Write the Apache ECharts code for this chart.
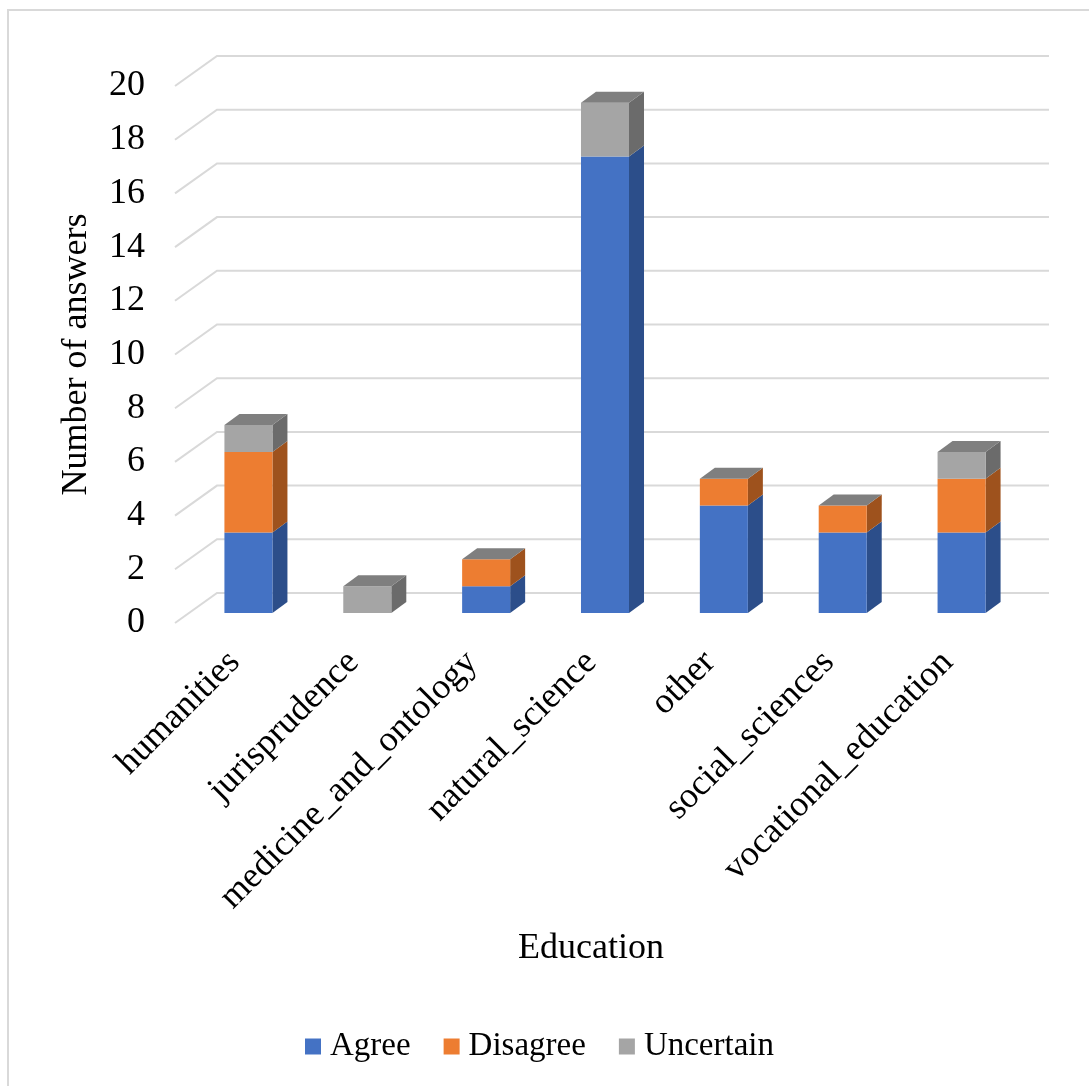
<!DOCTYPE html>
<html>
<head>
<meta charset="utf-8">
<script src="https://cdn.jsdelivr.net/npm/echarts@6/dist/echarts.min.js"></script>
<style>
  html, body { margin: 0; padding: 0; background: #fff; }
  #chart { width: 1089px; height: 1086px; }
</style>
</head>
<body>
<div id="chart"></div>
<script>
// Answers per education group, stacked by response
const categories = ['humanities', 'jurisprudence', 'medicine_and_ontology', 'natural_science', 'other', 'social_sciences', 'vocational_education'];
const agree     = [3, 0, 1, 17, 4, 3, 3];
const disagree  = [3, 0, 1, 0, 1, 1, 2];
const uncertain = [1, 1, 0, 2, 0, 0, 1];
const yTicks = [0, 2, 4, 6, 8, 10, 12, 14, 16, 18, 20];

const seriesDefs = [
  { name: 'Agree',     values: agree,     front: '#4472C4', side: '#2C4E8A', top: '#5B86D6' },
  { name: 'Disagree',  values: disagree,  front: '#ED7D31', side: '#9E521D', top: '#7F7F7F' },
  { name: 'Uncertain', values: uncertain, front: '#A5A5A5', side: '#6B6B6B', top: '#7F7F7F' }
];

// pseudo-3D depth: floor front edge -> bar front -> bar back -> back wall
const BAR_FRONT = [14, -10];
const BAR_DEPTH = [15, -11];
const WALL = [42, -30];
const BAR_FRAC = 0.404;
const FONT = 'Liberation Serif';

// stack bottoms/tops per category
const base = categories.map(() => 0);
const stacked = seriesDefs.map(() => []);
seriesDefs.forEach((s, si) => {
  s.values.forEach((v, ci) => {
    stacked[si].push([ci, base[ci], base[ci] + v, v]);
    base[ci] += v;
  });
});
const totals = base.slice();

function barRenderer(si) {
  const def = seriesDefs[si];
  return function (params, api) {
    const ci = api.value(0), y0 = api.value(1), y1 = api.value(2), v = api.value(3);
    if (!v) return null;
    const pb = api.coord([ci, y0]);
    const pt = api.coord([ci, y1]);
    const band = api.size([1, 0])[0];
    const w = band * BAR_FRAC;
    const cx = pb[0] + BAR_FRONT[0];
    const yb = pb[1] + BAR_FRONT[1];
    const yt = pt[1] + BAR_FRONT[1];
    const l = cx - w / 2, r = cx + w / 2;
    const dx = BAR_DEPTH[0], dy = BAR_DEPTH[1];
    const children = [
      { type: 'polygon', shape: { points: [[r, yb], [r + dx, yb + dy], [r + dx, yt + dy], [r, yt]] },
        style: { fill: def.side } },
      { type: 'rect', shape: { x: l, y: yt, width: w, height: yb - yt },
        style: { fill: def.front } }
    ];
    if (y1 === totals[ci]) {
      children.push({ type: 'polygon', shape: { points: [[l, yt], [l + dx, yt + dy], [r + dx, yt + dy], [r, yt]] },
        style: { fill: def.top } });
    }
    return { type: 'group', children: children };
  };
}

const chart = echarts.init(document.getElementById('chart'));

const series = [{
  type: 'custom',
  name: 'grid',
  silent: true,
  z: 1,
  data: yTicks.map(v => [0, v]),
  renderItem: function (params, api) {
    const v = api.value(1);
    const band = api.size([1, 0])[0];
    const pl = api.coord([0, v]);
    const pr = api.coord([categories.length - 1, v]);
    const left = pl[0] - band / 2, right = pr[0] + band / 2, y = pl[1];
    return {
      type: 'polyline',
      shape: { points: [[left, y], [left + WALL[0], y + WALL[1]], [right + WALL[0], y + WALL[1]]] },
      style: { stroke: '#D9D9D9', lineWidth: 2, fill: null }
    };
  }
}];

seriesDefs.forEach((def, si) => {
  series.push({
    type: 'custom',
    name: def.name,
    z: 2 + si,
    itemStyle: { color: def.front },
    data: stacked[si],
    renderItem: barRenderer(si)
  });
});

chart.setOption({
  backgroundColor: '#fff',
  animation: false,
  graphic: [{
    type: 'rect',
    shape: { x: 8, y: 10, width: 1200, height: 1200 },
    style: { fill: null, stroke: '#D9D9D9', lineWidth: 2 },
    silent: true
  }],
  grid: { left: 175, top: 86, width: 832, height: 537 },
  xAxis: {
    type: 'category',
    data: categories,
    name: 'Education',
    nameLocation: 'middle',
    nameGap: 308,
    nameTextStyle: { fontFamily: FONT, fontSize: 36, color: '#000' },
    axisLine: { show: false },
    axisTick: { show: false },
    axisLabel: { rotate: 45, margin: 34, fontFamily: FONT, fontSize: 36, color: '#000', interval: 0 }
  },
  yAxis: {
    type: 'value',
    min: 0, max: 20, interval: 2,
    name: 'Number of answers',
    nameLocation: 'middle',
    nameGap: 80,
    nameTextStyle: { fontFamily: FONT, fontSize: 36, color: '#000' },
    axisLine: { show: false },
    axisTick: { show: false },
    splitLine: { show: false },
    axisLabel: { margin: 30, fontFamily: FONT, fontSize: 36, color: '#000' }
  },
  legend: {
    data: seriesDefs.map(d => d.name),
    left: 300,
    top: 1025,
    icon: 'rect',
    itemWidth: 16,
    itemHeight: 16,
    itemGap: 33,
    textStyle: { fontFamily: FONT, fontSize: 33, color: '#000', padding: [0, 0, 0, 4] }
  },
  series: series
});
</script>
</body>
</html>
